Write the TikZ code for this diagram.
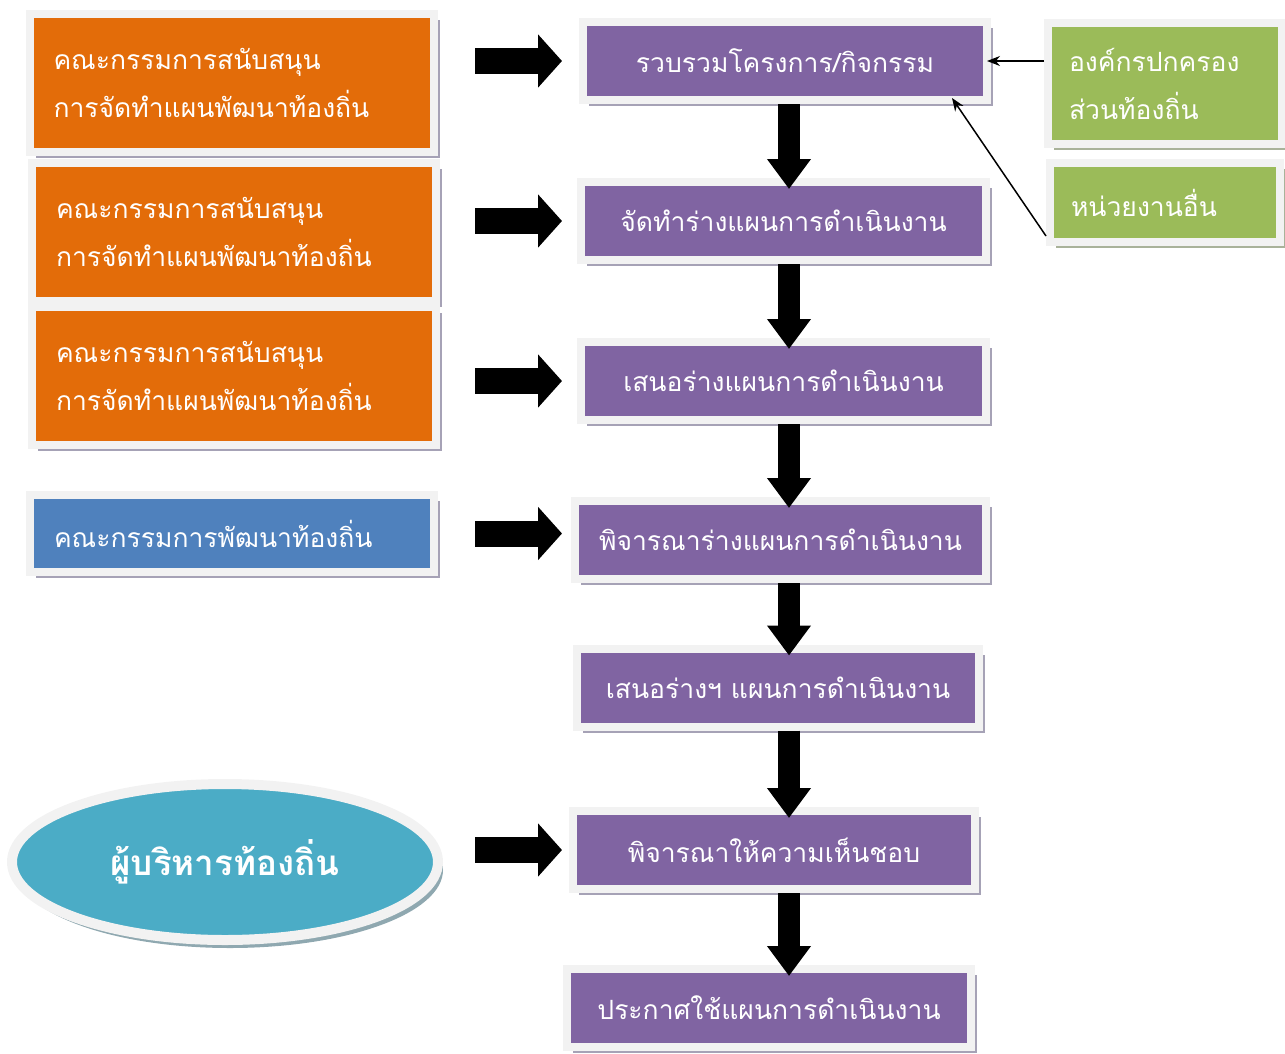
\documentclass[tikz,border=0pt]{standalone}
\usepackage{fontspec}
\newfontfamily\thaifont[Script=Thai]{Loma}
\usepackage{tikz}
\usetikzlibrary{arrows.meta,shadows,shapes.geometric}

\definecolor{kaorange}{HTML}{E36C09}
\definecolor{kapurple}{HTML}{8064A2}
\definecolor{kagreen}{HTML}{9BBB59}
\definecolor{kablue}{HTML}{4F81BD}
\definecolor{kateal}{HTML}{4BACC6}
\definecolor{framegray}{HTML}{F2F2F2}
\definecolor{shadowgray}{HTML}{A6A2B6}
\definecolor{shadowgreen}{HTML}{A9B29A}
\definecolor{shadowteal}{HTML}{8FA8B0}

\newcommand\boxfont{\fontsize{26.5}{48}\selectfont}

\tikzset{
  box/.style={rectangle, draw=framegray, line width=8pt, text=white, inner sep=0pt,
    font=\thaifont\boxfont,
    drop shadow={shadow xshift=6pt, shadow yshift=-6pt, fill=shadowgray, opacity=1}},
  leftbox/.style={box, fill=#1, align=left, inner xsep=24pt, text width=356pt, minimum height=138pt},
  stepbox/.style={box, fill=kapurple, align=center, minimum height=78pt},
  greenbox/.style={box, fill=kagreen, align=left, inner xsep=21pt,
    drop shadow={shadow xshift=6pt, shadow yshift=-6pt, fill=shadowgreen, opacity=1}},
  bigarrow/.style={line width=26pt, -{Triangle[width=52pt,length=24pt]}},
  downarrow/.style={line width=22pt, -{Triangle[width=42pt,length=30pt]}, shorten >=-11pt},
  thinarrow/.style={line width=1.5pt, -{Stealth[length=13pt,width=10pt]}}
}

\begin{document}
\begin{tikzpicture}[x=1pt,y=-1pt]
\useasboundingbox (0,0) rectangle (1285,1053);

% Committees (left)
\node[leftbox=kaorange] (sup1) at (231.5,82.5) {คณะกรรมการสนับสนุน\\การจัดทำแผนพัฒนาท้องถิ่น};
\node[leftbox=kaorange] (sup2) at (234,232) {คณะกรรมการสนับสนุน\\การจัดทำแผนพัฒนาท้องถิ่น};
\node[leftbox=kaorange] (sup3) at (234,376) {คณะกรรมการสนับสนุน\\การจัดทำแผนพัฒนาท้องถิ่น};
\node[leftbox=kablue, minimum height=77pt] (devcom) at (232,533.5) {คณะกรรมการพัฒนาท้องถิ่น};

% Local executive
\node[ellipse, draw=framegray, line width=10pt, fill=kateal, minimum width=426pt, minimum height=156pt,
  text=white, font=\thaifont\bfseries\fontsize{35}{40}\selectfont,
  drop shadow={shadow xshift=5pt, shadow yshift=-8pt, fill=shadowteal, opacity=1}] (exec) at (225,862) {ผู้บริหารท้องถิ่น};

% Steps (middle)
\node[stepbox, minimum width=404pt] (s1) at (785,61) {รวบรวมโครงการ/กิจกรรม};
\node[stepbox, minimum width=405pt] (s2) at (783.5,221) {จัดทำร่างแผนการดำเนินงาน};
\node[stepbox, minimum width=405pt] (s3) at (783.5,381) {เสนอร่างแผนการดำเนินงาน};
\node[stepbox, minimum width=411pt] (s4) at (780.5,540) {พิจารณาร่างแผนการดำเนินงาน};
\node[stepbox, minimum width=402pt] (s5) at (778,687.5) {เสนอร่างฯ แผนการดำเนินงาน};
\node[stepbox, minimum width=402pt] (s6) at (774,850) {พิจารณาให้ความเห็นชอบ};
\node[stepbox, minimum width=404pt] (s7) at (769,1008) {ประกาศใช้แผนการดำเนินงาน};

% Sources (right)
\node[greenbox, text width=192pt, minimum height=121pt] (org) at (1165,83.5) {องค์กรปกครอง\\ส่วนท้องถิ่น};
\node[greenbox, text width=188pt, minimum height=79pt] (other) at (1165,202.5) {หน่วยงานอื่น};

% Arrow columns
\coordinate (astart) at (475,0);
\coordinate (aend) at (562,0);
\coordinate (spine) at (789,0);

\draw[bigarrow] (s1.west -| astart) -- (s1.west -| aend);
\draw[bigarrow] (s2.west -| astart) -- (s2.west -| aend);
\draw[bigarrow] (s3.west -| astart) -- (s3.west -| aend);
\draw[bigarrow] (devcom.east -| astart) -- (devcom.east -| aend);
\draw[bigarrow] (s6.west -| astart) -- (s6.west -| aend);

\draw[downarrow] (s1.south -| spine) -- (s2.north -| spine);
\draw[downarrow] (s2.south -| spine) -- (s3.north -| spine);
\draw[downarrow] (s3.south -| spine) -- (s4.north -| spine);
\draw[downarrow] (s4.south -| spine) -- (s5.north -| spine);
\draw[downarrow] (s5.south -| spine) -- (s6.north -| spine);
\draw[downarrow] (s6.south -| spine) -- (s7.north -| spine);

\draw[thinarrow, shorten >=-4pt] (org.west |- s1.east) -- (s1.east);
\draw[thinarrow] ([yshift=10pt]other.south west) -- ([xshift=-39pt,yshift=6pt]s1.south east);

\end{tikzpicture}
\end{document}
